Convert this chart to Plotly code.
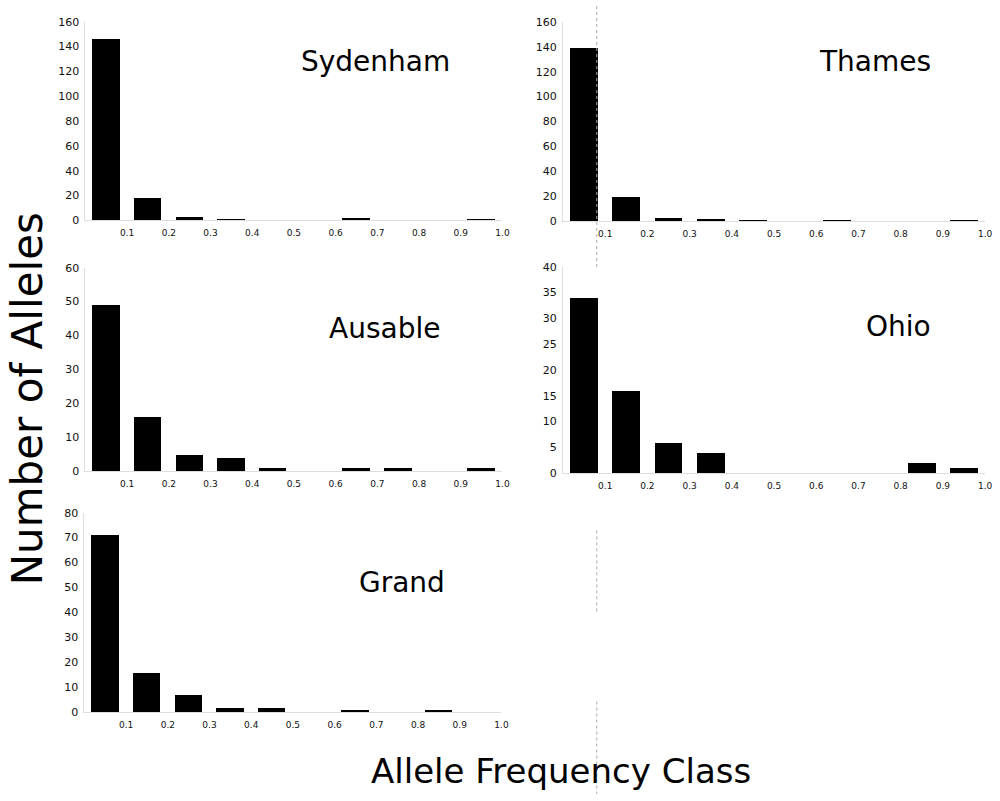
import plotly.graph_objects as go

# ---- data ----
bin_starts = [0.0, 0.1, 0.2, 0.3, 0.4, 0.5, 0.6, 0.7, 0.8, 0.9]
x_tick_vals = [0.1, 0.2, 0.3, 0.4, 0.5, 0.6, 0.7, 0.8, 0.9, 1.0]
x_tick_text = ["0.1", "0.2", "0.3", "0.4", "0.5", "0.6", "0.7", "0.8", "0.9", "1.0"]

rivers = ["Sydenham", "Thames", "Ausable", "Ohio", "Grand"]
sydenham = [146, 18, 3, 1, 0, 0, 2, 0, 0, 1]
thames = [139, 20, 3, 2, 1, 0, 1, 0, 0, 1]
ausable = [49, 16, 5, 4, 1, 0, 1, 1, 0, 1]
ohio = [34, 16, 6, 4, 0, 0, 0, 0, 2, 1]
grand = [71, 16, 7, 2, 2, 0, 1, 0, 1, 0]

y_max = [160, 160, 60, 40, 80]
y_step = [20, 20, 10, 5, 10]

series = [sydenham, thames, ausable, ohio, grand]

# ---- layout geometry (pixels) ----
W, H = 1000, 801
# (x at 0, x at 1.0, y px at 0, y px at max)
geom = [
    (86, 506, 218, 16),
    (567, 992, 219, 16),
    (86, 506, 473, 266),
    (567, 992, 475, 265),
    (85, 505, 718, 515),
]
label_pos = [(378, 56), (881, 56), (387, 328), (905, 326), (405, 586)]

FONT = "DejaVu Sans"
fig = go.Figure()
layout = dict(
    width=W, height=H,
    margin=dict(l=0, r=0, t=0, b=0),
    paper_bgcolor="white", plot_bgcolor="white",
    showlegend=False,
    bargap=0,
)

annotations = []
for i, (vals, g) in enumerate(zip(series, geom)):
    n = "" if i == 0 else str(i + 1)
    xa, ya = "x" + n, "y" + n
    centers = [b + 0.05 for b in bin_starts]
    fig.add_trace(go.Bar(
        x=centers, y=vals, width=0.066,
        marker=dict(color="black", line=dict(width=0)),
        xaxis=xa, yaxis=ya,
    ))
    x0, x1, y0, y1 = g
    layout["xaxis" + n] = dict(
        domain=[x0 / W, x1 / W], range=[0, 1.0], anchor=ya,
        tickvals=x_tick_vals, ticktext=x_tick_text,
        ticks="outside", ticklen=4, tickcolor="rgba(0,0,0,0)",
        tickfont=dict(family=FONT, size=9, color="#111"),
        showgrid=False, zeroline=False,
        showline=True, linecolor="#dddddd", linewidth=1,
    )
    ticks = list(range(0, y_max[i] + 1, y_step[i]))
    layout["yaxis" + n] = dict(
        domain=[1 - y0 / H, 1 - y1 / H], range=[0, y_max[i]], anchor=xa,
        tickvals=ticks, ticktext=[str(t) for t in ticks],
        ticks="outside", ticklen=3, tickcolor="rgba(0,0,0,0)",
        tickfont=dict(family=FONT, size=11, color="#111"),
        showgrid=False, zeroline=False,
        showline=True, linecolor="#dddddd", linewidth=1,
    )
    lx, ly = label_pos[i]
    annotations.append(dict(
        text=rivers[i], x=lx / W, y=1 - ly / H, xref="paper", yref="paper",
        xanchor="center", yanchor="middle", showarrow=False,
        font=dict(family=FONT, size=28, color="black"),
    ))

annotations.append(dict(
    text="Number of Alleles", x=28 / W, y=1 - 399 / H, xref="paper", yref="paper",
    xanchor="center", yanchor="middle", showarrow=False, textangle=-90,
    font=dict(family=FONT, size=42, color="black"),
))
annotations.append(dict(
    text="Allele Frequency Class", x=565 / W, y=1 - 778 / H, xref="paper", yref="paper",
    xanchor="center", yanchor="middle", showarrow=False,
    font=dict(family=FONT, size=34, color="black"),
))
layout["annotations"] = annotations

# faint dotted fold line
shapes = []
for a, b in [(0, 267), (533, 618), (707, 801)]:
    shapes.append(dict(type="line", xref="paper", yref="paper",
                       x0=601 / W, x1=601 / W, y0=1 - a / H, y1=1 - b / H,
                       line=dict(color="#aaaaaa", width=1, dash="dot")))
layout["shapes"] = shapes

fig.update_layout(**layout)
fig.write_html("out.html")
